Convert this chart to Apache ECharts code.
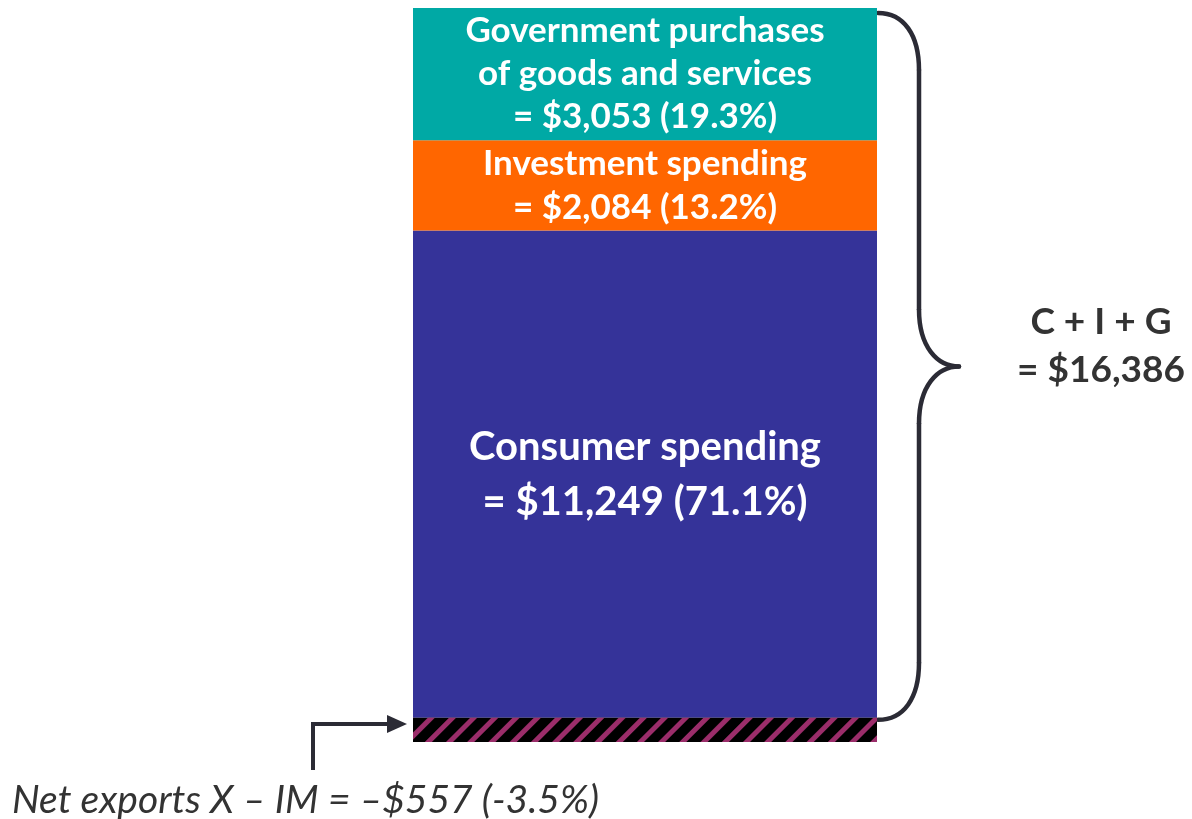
<!DOCTYPE html>
<html>
<head>
<meta charset="utf-8">
<script src="https://cdn.jsdelivr.net/npm/echarts@6/dist/echarts.min.js"></script>
<style>
  html, body { margin: 0; padding: 0; background: #ffffff; }
  #c { width: 1192px; height: 819px; }
</style>
</head>
<body>
<div id="c"></div>
<script>
// ---- data (US GDP components, billions of dollars) ----
const categories = ['GDP'];
const consumer = [11249];
const investment = [2084];
const government = [3053];
const netExports = [-557];
const consumerShare = [71.1];
const investmentShare = [13.2];
const governmentShare = [19.3];
const netExportsShare = [-3.5];
const cigTotal = [16386];

const fmt = v => '$' + Math.abs(v).toLocaleString('en-US');
const FONT = 'Lato, "Open Sans", sans-serif';
const DARK = '#2b2b35';

const chart = echarts.init(document.getElementById('c'));

const labelBase = {
  show: true,
  position: 'inside',
  color: '#ffffff',
  fontFamily: FONT,
  fontWeight: 'bold'
};

chart.setOption({
  animation: false,
  grid: { left: 413, right: 315, top: 8, bottom: 77 },
  xAxis: { type: 'category', data: categories, show: false },
  yAxis: { type: 'value', min: netExports[0], max: cigTotal[0], show: false },
  series: [
    {
      name: 'Consumer spending', type: 'bar', stack: 'gdp', barWidth: '100%',
      data: consumer,
      itemStyle: { color: '#353399' },
      label: Object.assign({}, labelBase, {
        fontSize: 40, lineHeight: 55,
        formatter: p => 'Consumer spending\n= ' + fmt(p.value) + ' (' + consumerShare[0] + '%)'
      })
    },
    {
      name: 'Investment spending', type: 'bar', stack: 'gdp', barWidth: '100%',
      data: investment,
      itemStyle: { color: '#ff6600' },
      label: Object.assign({}, labelBase, {
        fontSize: 35, lineHeight: 44,
        formatter: p => 'Investment spending\n= ' + fmt(p.value) + ' (' + investmentShare[0] + '%)'
      })
    },
    {
      name: 'Government purchases', type: 'bar', stack: 'gdp', barWidth: '100%',
      data: government,
      itemStyle: { color: '#00a9a5' },
      label: Object.assign({}, labelBase, {
        fontSize: 35, lineHeight: 43,
        formatter: p => 'Government purchases\nof goods and services\n= ' + fmt(p.value) + ' (' + governmentShare[0] + '%)'
      })
    },
    {
      name: 'Net exports', type: 'bar', stack: 'gdp', barWidth: '100%',
      data: netExports,
      itemStyle: {
        color: '#000000',
        decal: {
          symbol: 'rect',
          symbolSize: 1,
          color: '#9b2d6a',
          dashArrayX: [1, 0],
          dashArrayY: [5, 10],
          rotation: -Math.PI / 4
        }
      }
    }
  ]
});

// ---- annotations placed from the chart's own scales ----
const rect = chart.getModel().getComponent('grid').coordinateSystem.getRect();
const yTop = chart.convertToPixel({ gridIndex: 0 }, [0, cigTotal[0]])[1];
const yZero = chart.convertToPixel({ gridIndex: 0 }, [0, 0])[1];
const yNX = chart.convertToPixel({ gridIndex: 0 }, [0, netExports[0] / 2])[1];
const xRight = rect.x + rect.width;
const xLeft = rect.x;

const yT = yTop + 5, yB = yZero + 2, yM = (yT + yB) / 2;
const x0 = xRight + 1, xv = x0 + 41, xt = x0 + 81;
const braceStyle = { fill: 'none', stroke: DARK, lineWidth: 4.5, lineCap: 'round' };
const curve = (x1, y1, c1x, c1y, c2x, c2y, x2, y2) => ({
  type: 'bezierCurve',
  shape: { x1: x1, y1: y1, cpx1: c1x, cpy1: c1y, cpx2: c2x, cpy2: c2y, x2: x2, y2: y2 },
  style: braceStyle
});
const seg = (x1, y1, x2, y2) => ({
  type: 'line', shape: { x1: x1, y1: y1, x2: x2, y2: y2 }, style: braceStyle
});

const arrowTipX = xLeft - 6;
const arrowX = xLeft - 100;

chart.setOption({
  graphic: [
    curve(x0, yT, x0 + 26, yT, xv, yT + 22, xv, yT + 57),
    seg(xv, yT + 57, xv, yM - 57),
    curve(xv, yM - 57, xv, yM - 20, xv + 18, yM, xt, yM),
    curve(xt, yM, xv + 18, yM, xv, yM + 20, xv, yM + 57),
    seg(xv, yM + 57, xv, yB - 57),
    curve(xv, yB - 57, xv, yB - 22, x0 + 26, yB, x0, yB),
    {
      type: 'text',
      x: xt + 142, y: yM - 20,
      style: {
        text: 'C + I + G\n= ' + fmt(cigTotal[0]),
        fill: '#333333',
        font: 'bold 37px ' + FONT,
        textAlign: 'center',
        textVerticalAlign: 'middle',
        lineHeight: 48
      }
    },
    {
      type: 'polyline',
      shape: { points: [[arrowX, yNX + 40], [arrowX, yNX - 6], [arrowTipX - 16, yNX - 6]] },
      style: { fill: 'none', stroke: DARK, lineWidth: 4, lineJoin: 'miter' }
    },
    {
      type: 'polygon',
      shape: { points: [[arrowTipX - 20, yNX - 15], [arrowTipX, yNX - 6], [arrowTipX - 20, yNX + 3]] },
      style: { fill: DARK }
    },
    {
      type: 'text',
      x: 12, y: yNX + 70,
      style: {
        text: 'Net exports X \u2013 IM = \u2013' + fmt(netExports[0]) + ' (' + netExportsShare[0] + '%)',
        fill: '#333333',
        font: 'italic 39px ' + FONT,
        textAlign: 'left',
        textVerticalAlign: 'middle'
      }
    }
  ]
});
</script>
</body>
</html>
